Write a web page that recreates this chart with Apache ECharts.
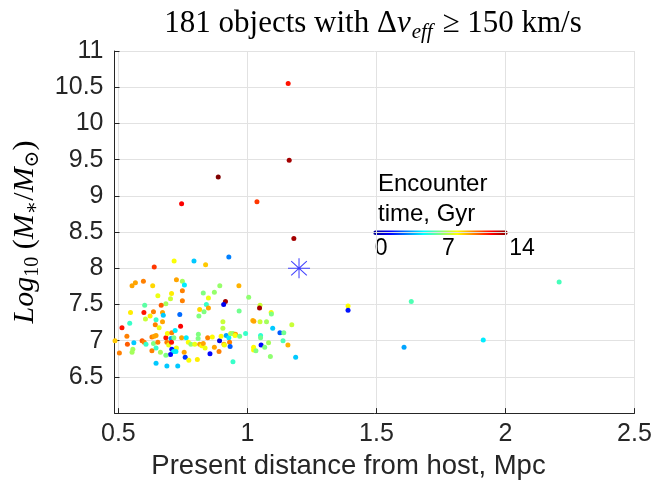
<!DOCTYPE html>
<html>
<head>
<meta charset="utf-8">
<script src="https://cdn.jsdelivr.net/npm/echarts@6/dist/echarts.min.js"></script>
<style>html,body{margin:0;padding:0;background:#fff}#c{width:665px;height:485px}</style>
</head>
<body>
<div id="c"></div>
<script>
// Present distance from host (Mpc)
const distance = [
1.158,1.162,0.887,0.745,1.037,1.180,1.390,1.390,1.635,1.607,1.914,2.208,
0.928,0.639,0.716,0.793,0.838,0.553,0.566,0.597,0.633,0.725,0.748,0.756,0.748,0.653,0.706,0.702,0.748,0.684,0.666,0.602,
0.829,0.872,0.893,0.967,0.849,0.841,0.915,0.908,1.005,1.049,1.047,1.092,1.093,0.547,0.599,0.636,0.671,0.674,0.623,0.605,
0.646,0.671,0.643,0.658,0.738,0.815,0.832,0.812,0.849,0.968,0.905,0.905,1.021,1.025,1.049,1.074,1.098,1.172,0.514,0.544,
0.533,0.487,0.504,0.535,0.556,0.553,0.560,0.592,0.600,0.607,0.630,0.639,0.646,0.636,0.646,0.630,0.653,0.663,0.684,0.690,
0.707,0.720,0.741,0.688,0.704,0.695,0.706,0.715,0.725,0.707,0.714,0.723,0.702,0.684,0.745,0.763,0.771,0.755,0.759,0.646,
0.688,0.730,0.773,0.806,0.781,0.810,0.809,0.796,0.815,0.823,0.829,0.836,0.846,0.864,0.872,0.892,0.890,0.855,0.898,0.909,
0.918,0.928,0.931,0.933,0.911,0.935,0.944,0.954,0.952,0.970,0.993,0.944,1.024,1.024,1.033,1.053,1.051,1.051,1.067,1.082,
1.089,1.126,1.141,1.138,1.157,1.187
];
// log10 stellar mass
const logMass = [
10.55,9.49,9.26,8.89,8.92,8.41,7.48,7.42,7.54,6.91,7.01,7.81,
8.156,8.018,8.10,8.10,8.05,7.76,7.80,7.82,7.76,7.84,7.82,7.77,7.69,7.62,7.65,7.58,7.55,7.51,7.49,7.49,
7.66,7.67,7.76,7.76,7.59,7.50,7.54,7.50,7.60,7.49,7.45,7.39,7.37,7.39,7.39,7.40,7.39,7.35,7.34,7.30,
7.29,7.26,7.22,7.18,7.36,7.43,7.40,7.34,7.45,7.41,7.26,7.17,7.28,7.27,7.26,7.26,7.17,7.22,7.18,7.24,
7.06,7.00,6.83,6.95,6.88,6.84,6.97,7.00,6.98,6.95,7.05,7.06,7.07,6.96,6.90,6.86,6.98,6.84,7.04,7.10,
7.11,7.14,7.20,6.98,7.03,6.94,6.98,7.04,6.90,6.88,6.85,6.85,6.81,6.80,7.04,7.04,6.98,6.84,6.77,6.69,
6.65,6.65,6.73,6.74,6.95,7.09,7.03,6.95,6.95,6.93,6.96,6.90,7.04,7.05,6.91,7.00,6.85,6.82,7.06,6.95,
7.07,7.04,6.98,6.92,6.94,7.10,7.10,7.09,7.07,7.06,7.10,6.71,6.91,6.87,6.86,6.94,7.07,7.04,6.91,6.97,
6.78,7.11,7.11,7.00,6.94,6.77
];
// Encounter time (Gyr)
const encounterTime = [
12,13.5,14,12.3,11.5,13.5,8.7,2,6.3,4,5,6.2,
3.5,11.5,8.7,4.5,9.5,10,10,10.5,9.3,10,7.5,5,10.5,8.5,9,8,10.5,7.5,11,6.5,
7,7.3,7.3,9.8,8.5,6,13.5,1.5,7.2,8,13.5,8.8,7,9,12,10.5,10,4.5,9,8,
6,10,10.5,8.5,3.2,9.3,7,7,10,6.8,8,7.8,9.8,10,8,7.5,4.5,8,12,6,
10.5,9.5,10.5,11,7.5,7.5,4.5,11,10.5,6,10.5,10,10,7,6,10.5,10.5,7.5,12,8.7,
10.5,5,12.3,10.5,4,8.5,12,7,8.5,2,5,5,1.8,7,10,5,8.7,10,2.5,4.5,
4.5,4.5,8.7,9,7.2,7,7,8.5,10,8.8,10,8.5,10.5,8.8,10,1.2,10.5,1.8,8.8,10,
4,5,10.5,3,8.6,7.8,7.3,10,8.7,6.8,6,6,8.8,8.8,7,1.8,5.8,6.8,7,7.5,
7.2,3,6.8,6.3,9.8,4.5
];
// Host position marker
const host = [[1.2, 8]];
const xTicks = [0.5, 1, 1.5, 2, 2.5];
const cbTicks = [0, 7, 14];

const jet = ['#00008f','#0000ff','#0080ff','#00ffff','#80ff80','#ffff00','#ff8000','#ff0000','#800000'];
const points = distance.map((d, i) => [d, logMass[i], encounterTime[i]]);

const chart = echarts.init(document.getElementById('c'), null, {renderer: 'canvas'});
const axisColor = '#262626';
const gridColor = '#e2e2e2';
const serif = '"Liberation Serif", "DejaVu Serif", serif';
const sans = '"Liberation Sans", Arial, sans-serif';

// colorbar geometry
const cbX0 = 373.3, cbX1 = 507.7, cbY = 230.5;
const cbGraphics = [{
  type: 'rect', shape: {x: cbX0, y: cbY, width: cbX1 - cbX0, height: 4.5, r: 2.2},
  style: {fill: new echarts.graphic.LinearGradient(0, 0, 1, 0, jet.map((c, i) => ({offset: i / (jet.length - 1), color: c}))), stroke: null}
}];
cbTicks.forEach(t => {
  cbGraphics.push({type: 'text', x: cbX0 + (cbX1 - cbX0) * t / 14 + 1.5, y: 237,
    style: {text: String(t), fill: '#000', font: '23px ' + sans, align: 'left', verticalAlign: 'top'}});
});
cbGraphics.push({type: 'text', x: 378, y: 169,
  style: {text: 'Encounter\ntime, Gyr', fill: '#000', font: '24px ' + sans, lineHeight: 30, align: 'left', verticalAlign: 'top'}});

chart.setOption({
  animation: false,
  grid: {left: 112, right: 30.5, top: 51, bottom: 70, containLabel: false},
  visualMap: {show: false, type: 'continuous', dimension: 2, min: 0, max: 14, seriesIndex: 0, inRange: {color: jet}},
  xAxis: {
    type: 'value', min: 0.485, max: 2.5,
    name: 'Present distance from host, Mpc', nameLocation: 'middle', nameGap: 38,
    nameTextStyle: {fontSize: 27.5, color: axisColor, fontFamily: sans, padding: [0, 52, 0, 0]},
    axisLine: {show: true, onZero: false, lineStyle: {color: axisColor, width: 1}},
    axisTick: {show: true, inside: true, length: 5, customValues: xTicks, lineStyle: {color: axisColor}},
    axisLabel: {customValues: xTicks, fontSize: 25, color: axisColor, margin: 9, fontFamily: sans,
      formatter: v => String(v)},
    splitLine: {show: true, lineStyle: {color: gridColor, width: 1}}
  },
  yAxis: {
    type: 'value', min: 6, max: 11, interval: 0.5,
    name: '{i|Log}{s|10}{n| (}{i|M}{s|∗}{n|/}{i|M}{s|⊙}{n|)}', nameLocation: 'middle', nameGap: 74, nameRotate: 90,
    nameTextStyle: {
      rich: {
        i: {fontSize: 30, fontStyle: 'italic', fontFamily: serif, color: '#000', lineHeight: 30},
        n: {fontSize: 30, fontFamily: serif, color: '#000', lineHeight: 30},
        s: {fontSize: 20, fontFamily: serif, color: '#000', lineHeight: 20, padding: [15, 0, 0, 0]}
      }
    },
    axisLine: {show: true, onZero: false, lineStyle: {color: axisColor, width: 1}},
    axisTick: {show: true, inside: true, length: 5, lineStyle: {color: axisColor}},
    axisLabel: {fontSize: 25, color: axisColor, margin: 11, showMinLabel: false, fontFamily: sans,
      formatter: v => String(v)},
    splitLine: {show: true, lineStyle: {color: gridColor, width: 1}}
  },
  graphic: [{
    type: 'text', x: 373, y: 8,
    style: {
      text: '{n|181 objects with Δ}{i|v}{s|eff}{n| ≥ 150 km/s}',
      align: 'center', verticalAlign: 'top',
      rich: {
        n: {fontSize: 31, fontFamily: serif, fill: '#000', lineHeight: 32},
        i: {fontSize: 31, fontStyle: 'italic', fontFamily: serif, fill: '#000', lineHeight: 32},
        s: {fontSize: 21, fontStyle: 'italic', fontFamily: serif, fill: '#000', lineHeight: 21, padding: [17, 2, 0, 1]}
      }
    }
  }].concat(cbGraphics),
  series: [{
    type: 'scatter', data: points, symbol: 'circle', symbolSize: 5, clip: false,
    itemStyle: {opacity: 1}
  }, {
    type: 'scatter', data: host, symbol: 'path://M0,10L20,10M10,0L10,20M2.9,2.9L17.1,17.1M2.9,17.1L17.1,2.9',
    symbolSize: [22, 20], z: 5,
    itemStyle: {color: 'none', borderColor: '#1414ff', borderWidth: 1}
  }]
});
</script>
</body>
</html>
